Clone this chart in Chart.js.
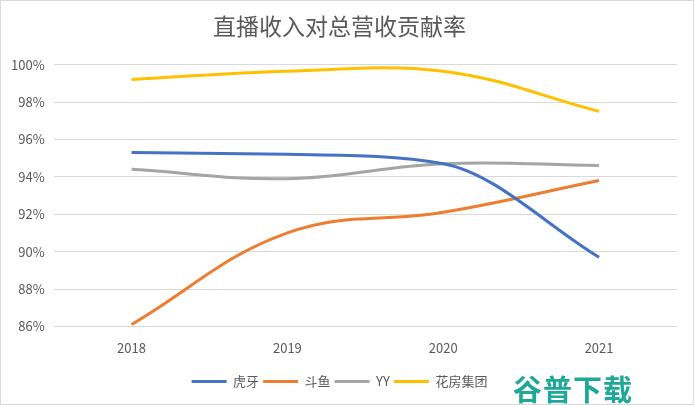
<!DOCTYPE html>
<html>
<head>
<meta charset="utf-8">
<script src="https://cdn.jsdelivr.net/npm/chart.js@4"></script>
<style>
    body { margin: 0; background: #fff; }
    #wrap { position: relative; width: 692px; height: 403px; border: 1px solid #d9d9d9; }
    #mark {
        position: absolute; left: 512px; top: 366px;
        font-family: "Noto Sans CJK SC", sans-serif; font-weight: bold;
        font-size: 29px; color: #1fa898; letter-spacing: 1px;
    }
</style>
</head>
<body>
<div id="wrap">
    <canvas id="rateChart" width="692" height="403"></canvas>
    <div id="mark">谷普下载</div>
</div>
<script>
var years = ['2018', '2019', '2020', '2021'];
var seriesNames = ['虎牙', '斗鱼', 'YY', '花房集团'];
var huya = [95.3, 95.2, 94.7, 89.7];
var douyu = [86.1, 91.0, 92.1, 93.8];
var yy = [94.4, 93.9, 94.7, 94.6];
var huafang = [99.2, 99.65, 99.65, 97.5];
var yTicks = [86, 88, 90, 92, 94, 96, 98, 100];

var colors = ['#4472C4', '#ED7D31', '#A5A5A5', '#FFC000'];
var allValues = [huya, douyu, yy, huafang];
var curveModes = ['monotone', 'default', 'default', 'default'];

var fontFamily = '"Noto Sans CJK SC", "Noto Sans", sans-serif';

var datasets = seriesNames.map(function(name, i) {
    return {
        label: name,
        data: allValues[i],
        borderColor: colors[i],
        backgroundColor: colors[i],
        borderWidth: 3,
        pointRadius: 0,
        tension: 0.4,
        cubicInterpolationMode: curveModes[i],
        fill: false
    };
});

var ctx = document.getElementById('rateChart').getContext('2d');

var myChart = new Chart(ctx, {
    type: 'line',
    data: {
        labels: years,
        datasets: datasets
    },
    options: {
        responsive: false,
        animation: false,
        layout: {
            padding: { left: 1, right: 16, top: 0, bottom: 6 }
        },
        plugins: {
            title: {
                display: true,
                text: '直播收入对总营收贡献率',
                color: '#595959',
                font: { family: fontFamily, size: 23, weight: 'normal' },
                padding: { top: 11, bottom: 25 }
            },
            legend: {
                position: 'bottom',
                align: 'center',
                labels: {
                    boxWidth: 35,
                    boxHeight: 3,
                    padding: 4,
                    color: '#595959',
                    font: { family: fontFamily, size: 13 },
                    generateLabels: function(chart) {
                        var items = Chart.defaults.plugins.legend.labels.generateLabels(chart);
                        items.forEach(function(item) {
                            item.lineWidth = 0;
                            item.fillStyle = item.strokeStyle;
                        });
                        return items;
                    }
                }
            },
            tooltip: { enabled: false }
        },
        scales: {
            x: {
                offset: true,
                grid: { display: false },
                border: { display: false },
                afterFit: function(axis) { axis.height += 9; },
                ticks: {
                    color: '#595959',
                    font: { family: fontFamily, size: 13 },
                    padding: 6
                }
            },
            y: {
                min: yTicks[0],
                max: yTicks[yTicks.length - 1],
                afterBuildTicks: function(axis) {
                    axis.ticks = yTicks.map(function(v) { return { value: v }; });
                },
                grid: { color: '#d9d9d9', lineWidth: 1, drawTicks: false },
                border: { display: false },
                ticks: {
                    color: '#595959',
                    font: { family: fontFamily, size: 13 },
                    padding: 9,
                    callback: function(v) { return v + '%'; }
                }
            }
        }
    }
});
</script>
</body>
</html>
